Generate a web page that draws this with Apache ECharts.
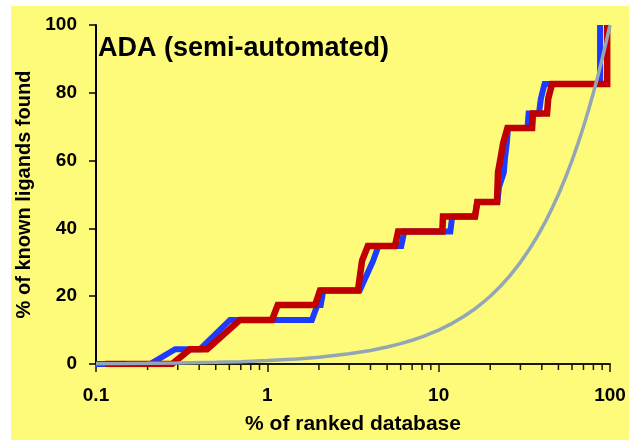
<!DOCTYPE html>
<html><head><meta charset="utf-8">
<script src="https://cdn.jsdelivr.net/npm/echarts@6/dist/echarts.min.js"></script>
<style>html,body{margin:0;padding:0;background:#fff}#c{width:629px;height:440px}</style>
</head><body><div id="c"></div>
<script>
const titleText = 'ADA (semi-automated)';
const xAxisName = '% of ranked database';
const yAxisName = '% of known ligands found';
const xMinorTicks = [0.2,0.3,0.4,0.5,0.6,0.7,0.8,0.9,2,3,4,5,6,7,8,9,20,30,40,50,60,70,80,90];

// random-selection reference curve (grey)
const randomCurve = [[0.1,0.1],[0.15,0.15],[0.2,0.2],[0.3,0.3],[0.5,0.5],[0.7,0.7],[1,1],[1.5,1.5],[2,2],[3,3],[4,4],[5,5],[6,6],[7,7],[8,8],[10,10],[12,12],[14,14],[16,16],[18,18],[20,20],[23,23],[26,26],[30,30],[34,34],[38,38],[42,42],[46,46],[50,50],[55,55],[60,60],[65,65],[70,70],[75,75],[80,80],[85,85],[90,90],[95,95],[100,100]];

// blue enrichment curve
const blueSeries = [[0.1,0],[0.207,0],[0.29,4.35],[0.405,4.35],[0.606,13.0],[1.82,13.0],[1.96,17.4],[2.05,17.4],[2.12,21.7],[3.46,21.7],[4.14,30.4],[4.45,34.8],[6.05,34.8],[6.3,39.1],[11.7,39.1],[12.0,43.5],[16.3,43.5],[16.8,47.8],[22.0,47.8],[22.5,52.2],[24.0,56.5],[24.4,60.9],[25.0,65.2],[25.4,69.6],[33.0,69.6],[33.5,73.9],[38.5,73.9],[39.5,78.3],[41.5,82.6],[87.5,82.6],[87.5,100]];

// red enrichment curve
const redSeries = [[0.113,0],[0.278,0],[0.354,4.35],[0.445,4.35],[0.693,13.0],[1.065,13.0],[1.15,17.4],[1.90,17.4],[2.03,21.7],[3.38,21.7],[3.57,30.4],[3.86,34.8],[5.56,34.8],[5.8,39.1],[10.5,39.1],[10.6,43.5],[16.3,43.5],[16.8,47.8],[21.9,47.8],[22.2,56.5],[23.0,60.9],[23.8,65.2],[25.2,69.6],[35.1,69.6],[35.5,73.9],[42.9,73.9],[43.6,78.3],[45.9,82.6],[96.3,82.6],[96.3,100]];

const FONT = 'Liberation Sans, Arial, sans-serif';
const chart = echarts.init(document.getElementById('c'), null, {renderer:'canvas'});
chart.setOption({
  animation: false,
  backgroundColor: '#ffffff',
  graphic: [{type:'rect', left:11, top:6, z:-10, shape:{width:618, height:434}, style:{fill:'#fffb7a'}}],
  title: {text: titleText, left: 98, top: 35, padding: 0,
    textStyle: {fontFamily: FONT, fontWeight: 'bold', fontSize: 27, color: '#000'}},
  grid: {left: 96, right: 19, top: 25, bottom: 75, containLabel: false},
  xAxis: {
    type: 'log', logBase: 10, min: 0.1, max: 100,
    name: xAxisName, nameLocation: 'middle', nameGap: 50,
    nameTextStyle: {fontFamily: FONT, fontWeight: 'bold', fontSize: 21, color: '#000'},
    axisLine: {show: true, onZero: false, lineStyle: {color: '#1a1a00', width: 2}},
    axisTick: {show: true, length: 8, lineStyle: {color: '#1a1a00', width: 1.5}},
    minorTick: {show: false},
    splitLine: {show: false},
    axisLabel: {margin: 22, fontFamily: FONT, fontWeight: 'bold', fontSize: 19, color: '#000',
      formatter: v => String(v)}
  },
  yAxis: {
    type: 'value', min: 0, max: 100, interval: 20,
    name: yAxisName, nameLocation: 'middle', nameGap: 56, nameRotate: 90,
    nameTextStyle: {fontFamily: FONT, fontWeight: 'bold', fontSize: 20, color: '#000'},
    axisLine: {show: true, lineStyle: {color: '#000', width: 2}},
    axisTick: {show: true, length: 7, lineStyle: {color: '#000', width: 1.5}},
    splitLine: {show: false},
    axisLabel: {margin: 19, fontFamily: FONT, fontWeight: 'bold', fontSize: 19, color: '#000'}
  },
  series: [
    {type: 'custom', clip: false, silent: true, z: 1,
     data: xMinorTicks.map(v => [v, 0]),
     renderItem: function(params, api){
       const p = api.coord([api.value(0), 0]);
       return {type:'line', shape:{x1:p[0], y1:p[1]+1, x2:p[0], y2:p[1]+6},
               style:{stroke:'#1a1a00', lineWidth:1.5}};
     }},
    {type: 'line', data: blueSeries, showSymbol: false, symbol: 'none', z: 3,
     lineStyle: {color: '#1e3cff', width: 6, join: 'miter', cap: 'butt'}},
    {type: 'line', data: redSeries, showSymbol: false, symbol: 'none', z: 4,
     lineStyle: {color: '#c00000', width: 6.5, join: 'miter', cap: 'butt'}},
    {type: 'line', data: randomCurve, showSymbol: false, symbol: 'none', z: 5,
     lineStyle: {color: '#93a6b6', width: 3.5}}
  ]
});
</script>
</body></html>
